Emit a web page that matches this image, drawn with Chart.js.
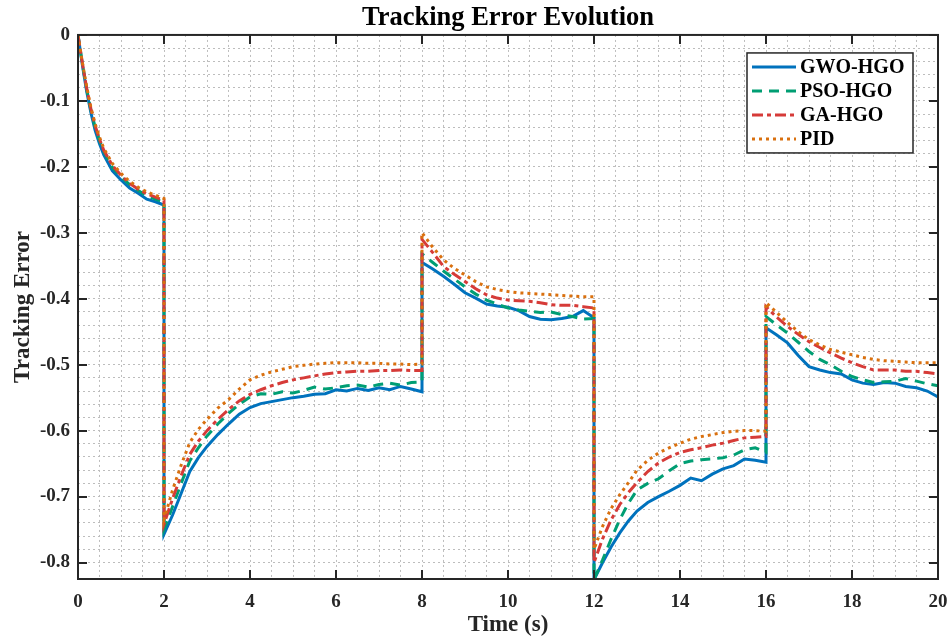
<!DOCTYPE html>
<html>
<head>
<meta charset="utf-8">
<script src="https://cdn.jsdelivr.net/npm/chart.js@4.4.1/dist/chart.umd.min.js"></script>
<style>
  html, body { margin: 0; padding: 0; background: #ffffff; }
  #wrap { width: 951px; height: 641px; position: relative; }
</style>
</head>
<body>
<div id="wrap"><canvas id="c" width="951" height="641"></canvas></div>
<script>
// ---------------- DATA ----------------
const chartTitle = 'Tracking Error Evolution';
const xLabel = 'Time (s)';
const yLabel = 'Tracking Error';
const seriesNames = ['GWO-HGO', 'PSO-HGO', 'GA-HGO', 'PID'];

// time samples (s); repeated instants mark the step changes
const time = [
  0, 0.1, 0.2, 0.3, 0.4, 0.5, 0.6, 0.8, 1.0, 1.2, 1.4, 1.6, 1.8, 2.0,
  2.0, 2.2, 2.4, 2.6, 2.8, 3.0, 3.25, 3.5, 3.75, 4.0, 4.25, 4.5, 4.75, 5.0, 5.25, 5.5, 5.75, 6.0, 6.25, 6.5, 6.75, 7.0, 7.25, 7.5, 7.75, 8.0,
  8.0, 8.25, 8.5, 8.75, 9.0, 9.25, 9.5, 9.75, 10.0, 10.25, 10.5, 10.75, 11.0, 11.25, 11.5, 11.75, 12.0,
  12.0, 12.2, 12.4, 12.6, 12.8, 13.0, 13.25, 13.5, 13.75, 14.0, 14.25, 14.5, 14.75, 15.0, 15.25, 15.5, 15.75, 16.0,
  16.0, 16.25, 16.5, 16.75, 17.0, 17.25, 17.5, 17.75, 18.0, 18.25, 18.5, 18.75, 19.0, 19.25, 19.5, 19.75, 20.0
];

const gwoHgo = [
  0, -0.045, -0.085, -0.118, -0.145, -0.165, -0.182, -0.206, -0.220, -0.232, -0.240, -0.249, -0.253, -0.258,
  -0.757, -0.728, -0.695, -0.662, -0.641, -0.624, -0.606, -0.590, -0.575, -0.565, -0.559, -0.556, -0.553, -0.550, -0.548, -0.545, -0.544, -0.538, -0.540, -0.536, -0.539, -0.535, -0.538, -0.533, -0.537, -0.541,
  -0.345, -0.355, -0.366, -0.378, -0.391, -0.399, -0.408, -0.411, -0.413, -0.418, -0.427, -0.431, -0.432, -0.430, -0.427, -0.418, -0.429,
  -0.826, -0.800, -0.776, -0.755, -0.737, -0.722, -0.709, -0.700, -0.692, -0.683, -0.672, -0.676, -0.666, -0.658, -0.653, -0.643, -0.645, -0.648,
  -0.444, -0.455, -0.467, -0.486, -0.503, -0.508, -0.512, -0.514, -0.523, -0.528, -0.530, -0.527, -0.528, -0.533, -0.535, -0.540, -0.549
];

const psoHgo = [
  0, -0.043, -0.082, -0.114, -0.140, -0.160, -0.177, -0.201, -0.215, -0.227, -0.236, -0.244, -0.249, -0.254,
  -0.750, -0.715, -0.680, -0.646, -0.626, -0.608, -0.590, -0.574, -0.560, -0.549, -0.544, -0.545, -0.541, -0.543, -0.539, -0.534, -0.537, -0.535, -0.532, -0.531, -0.534, -0.530, -0.528, -0.531, -0.527, -0.526,
  -0.332, -0.345, -0.358, -0.370, -0.382, -0.393, -0.402, -0.408, -0.414, -0.417, -0.419, -0.421, -0.420, -0.424, -0.427, -0.431, -0.430,
  -0.826, -0.796, -0.764, -0.735, -0.710, -0.690, -0.680, -0.673, -0.661, -0.650, -0.646, -0.644, -0.643, -0.641, -0.637, -0.629, -0.626, -0.633,
  -0.427, -0.440, -0.452, -0.466, -0.480, -0.492, -0.500, -0.510, -0.518, -0.523, -0.527, -0.526, -0.525, -0.521, -0.525, -0.529, -0.532
];

const gaHgo = [
  0, -0.042, -0.080, -0.112, -0.138, -0.158, -0.175, -0.198, -0.213, -0.225, -0.234, -0.241, -0.246, -0.251,
  -0.742, -0.703, -0.668, -0.636, -0.616, -0.600, -0.583, -0.568, -0.555, -0.545, -0.538, -0.532, -0.527, -0.523, -0.520, -0.517, -0.514, -0.512, -0.511, -0.510, -0.510, -0.509, -0.509, -0.508, -0.509, -0.509,
  -0.310, -0.330, -0.351, -0.363, -0.374, -0.385, -0.394, -0.399, -0.402, -0.403, -0.404, -0.406, -0.409, -0.410, -0.410, -0.412, -0.414,
  -0.800, -0.764, -0.735, -0.712, -0.694, -0.679, -0.662, -0.649, -0.640, -0.633, -0.629, -0.626, -0.622, -0.619, -0.615, -0.611, -0.610, -0.609,
  -0.412, -0.428, -0.442, -0.454, -0.465, -0.474, -0.482, -0.490, -0.497, -0.503, -0.508, -0.508, -0.508, -0.510, -0.510, -0.512, -0.514
];

const pid = [
  0, -0.041, -0.078, -0.110, -0.135, -0.155, -0.172, -0.195, -0.210, -0.222, -0.231, -0.238, -0.243, -0.248,
  -0.735, -0.690, -0.652, -0.618, -0.598, -0.583, -0.566, -0.553, -0.537, -0.523, -0.516, -0.511, -0.507, -0.503, -0.501, -0.499, -0.498, -0.497, -0.497, -0.497, -0.498, -0.498, -0.499, -0.499, -0.500, -0.499,
  -0.300, -0.322, -0.341, -0.354, -0.364, -0.374, -0.382, -0.386, -0.389, -0.391, -0.392, -0.393, -0.394, -0.395, -0.396, -0.397, -0.397,
  -0.780, -0.745, -0.718, -0.697, -0.679, -0.660, -0.645, -0.634, -0.626, -0.619, -0.613, -0.609, -0.606, -0.603, -0.601, -0.600, -0.600, -0.601,
  -0.406, -0.421, -0.436, -0.450, -0.462, -0.470, -0.477, -0.481, -0.485, -0.489, -0.492, -0.494, -0.495, -0.496, -0.497, -0.497, -0.497
];

const xMin = 0, xMax = 20, xMajorStep = 2, xMinorStep = 0.5;
const yMin = -0.825, yMax = 0, yMajorStep = 0.1, yMinorStep = 0.02;

// ---------------- STYLE ----------------
const FONT = '"Liberation Serif", "Times New Roman", Times, serif';
const AXIS_COLOR = '#262626';
const styles = [
  { color: '#0072BD', dash: [] },
  { color: '#009E73', dash: [10, 7] },
  { color: '#D63B38', dash: [11, 4, 4, 4] },
  { color: '#D9700F', dash: [3, 4] }
];
const seriesData = [gwoHgo, psoHgo, gaHgo, pid];

function isMultiple(v, step) {
  const r = v / step;
  return Math.abs(r - Math.round(r)) < 1e-6;
}

const datasets = seriesData.map((vals, i) => ({
  label: seriesNames[i],
  data: time.map((t, k) => ({ x: t, y: vals[k] })),
  borderColor: styles[i].color,
  backgroundColor: styles[i].color,
  borderDash: styles[i].dash,
  borderWidth: 3,
  pointRadius: 0,
  tension: 0,
  fill: false,
  order: 4 - i
}));

// frame, inward ticks and boxed legend; title centred over the plot area
const framePlugin = {
  id: 'frame',
  afterLayout(chart) {
    const tb = chart.titleBlock;
    if (tb) { tb.left = chart.chartArea.left; tb.right = chart.chartArea.right; }
  },
  afterDatasetsDraw(chart) {
    const { ctx, chartArea: a, scales } = chart;
    ctx.save();
    ctx.strokeStyle = AXIS_COLOR;
    ctx.lineWidth = 2;
    ctx.setLineDash([]);
    ctx.strokeRect(a.left, a.top, a.right - a.left, a.bottom - a.top);
    const tl = 9;
    ctx.lineWidth = 2;
    scales.x.ticks.forEach(t => {
      if (!isMultiple(t.value, xMajorStep)) return;
      const px = Math.round(scales.x.getPixelForValue(t.value));
      ctx.beginPath();
      ctx.moveTo(px, a.bottom); ctx.lineTo(px, a.bottom - tl);
      ctx.moveTo(px, a.top); ctx.lineTo(px, a.top + tl);
      ctx.stroke();
    });
    scales.y.ticks.forEach(t => {
      if (!isMultiple(t.value, yMajorStep)) return;
      const py = Math.round(scales.y.getPixelForValue(t.value));
      ctx.beginPath();
      ctx.moveTo(a.left, py); ctx.lineTo(a.left + tl, py);
      ctx.moveTo(a.right, py); ctx.lineTo(a.right - tl, py);
      ctx.stroke();
    });

    // legend
    const boxW = 166, boxH = 100;
    const bx = a.right - 25 - boxW, by = a.top + 18;
    ctx.fillStyle = '#ffffff';
    ctx.fillRect(bx, by, boxW, boxH);
    ctx.lineWidth = 1.5;
    ctx.strokeStyle = AXIS_COLOR;
    ctx.strokeRect(bx, by, boxW, boxH);
    ctx.font = 'bold 20px ' + FONT;
    ctx.textBaseline = 'middle';
    ctx.textAlign = 'left';
    seriesNames.forEach((name, i) => {
      const y = by + 14 + i * 24;
      ctx.strokeStyle = styles[i].color;
      ctx.lineWidth = 3;
      ctx.setLineDash(styles[i].dash);
      ctx.beginPath();
      ctx.moveTo(bx + 5, y); ctx.lineTo(bx + 49, y);
      ctx.stroke();
      ctx.setLineDash([]);
      ctx.fillStyle = '#000000';
      ctx.fillText(name, bx + 53, y + 1);
    });
    ctx.restore();
  }
};

new Chart(document.getElementById('c'), {
  type: 'line',
  data: { datasets },
  plugins: [framePlugin],
  options: {
    responsive: false,
    animation: false,
    devicePixelRatio: 1,
    layout: { padding: { left: 0, right: 13, top: 0, bottom: 0 } },
    plugins: {
      legend: { display: false },
      tooltip: { enabled: false },
      title: {
        display: true,
        text: chartTitle,
        color: '#000000',
        font: { family: FONT, size: 26.5, weight: 'bold', lineHeight: 1.13 },
        padding: { top: 3, bottom: 2 }
      }
    },
    scales: {
      x: {
        type: 'linear',
        min: xMin, max: xMax,
        afterFit(scale) { scale.height = 62; scale.paddingRight = 0; scale.paddingLeft = 0; },
        border: { display: false, dash: [2, 3] },
        grid: { color: '#bdbdbd', lineWidth: 1, drawTicks: false },
        ticks: {
          stepSize: xMinorStep,
          autoSkip: false,
          maxRotation: 0,
          padding: 12,
          color: '#262626',
          font: { family: FONT, size: 19, weight: 'bold' },
          callback: v => isMultiple(v, xMajorStep) ? String(Math.round(v)) : ''
        },
        title: {
          display: true,
          text: xLabel,
          color: '#262626',
          font: { family: FONT, size: 23, weight: 'bold', lineHeight: 1.2 },
          padding: { top: 0, bottom: 2 }
        }
      },
      y: {
        type: 'linear',
        min: yMin, max: yMax,
        afterFit(scale) { scale.width = 78; },
        border: { display: false, dash: [2, 3] },
        grid: { color: '#bdbdbd', lineWidth: 1, drawTicks: false },
        ticks: {
          stepSize: yMinorStep,
          autoSkip: false,
          padding: 8,
          color: '#262626',
          font: { family: FONT, size: 19, weight: 'bold' },
          callback: v => isMultiple(v, yMajorStep) ? (Math.abs(v) < 1e-9 ? '0' : v.toFixed(1)) : ''
        },
        title: {
          display: true,
          text: yLabel,
          color: '#262626',
          font: { family: FONT, size: 23, weight: 'bold', lineHeight: 1.2 },
          padding: { top: 9, bottom: 0 }
        }
      }
    }
  }
});
</script>
</body>
</html>
